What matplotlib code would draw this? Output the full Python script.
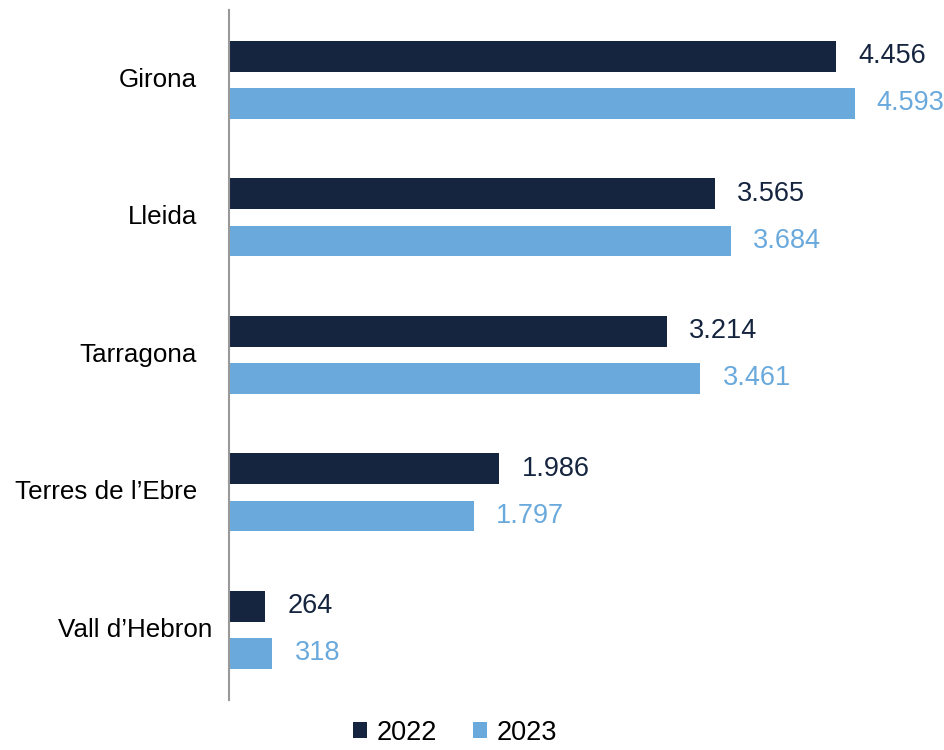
import matplotlib
matplotlib.use('Agg')
import matplotlib.pyplot as plt
import matplotlib.transforms as mtransforms
import numpy as np

## {{{                          --     data     --
regions = ['Girona', 'Lleida', 'Tarragona', "Terres de l\u2019Ebre", "Vall d\u2019Hebron"]
vals_2022 = [4456, 3565, 3214, 1986, 264]
vals_2023 = [4593, 3684, 3461, 1797, 318]
years = ['2022', '2023']
##────────────────────────────────────────────────────────────────────────────}}}

plt.rcParams['font.family'] = ['Liberation Sans', 'DejaVu Sans']

c22 = '#16253f'
c23 = '#6aa9dc'
fs = 19.5

fig = plt.figure(figsize=(9.44, 7.5), dpi=100)
ax = fig.add_axes([0.2426, 0.0667, 0.7574, 0.92])

y = np.arange(len(regions))
off, h = 0.171, 0.225
ax.barh(y - off, vals_2022, height=h, color=c22, label=years[0])
ax.barh(y + off, vals_2023, height=h, color=c23, label=years[1])


def fmt(v):
    return f'{v:,}'.replace(',', '.')


for yi, v in zip(y, vals_2022):
    ax.annotate(fmt(v), (v, yi - off), xytext=(16, 0), textcoords='offset points',
                va='center', ha='left', fontsize=fs, color=c22)
for yi, v in zip(y, vals_2023):
    ax.annotate(fmt(v), (v, yi + off), xytext=(16, 0), textcoords='offset points',
                va='center', ha='left', fontsize=fs, color=c23)

# category labels (last one sits a bit closer to the axis)
ax.set_yticks([])
for i, name in enumerate(regions):
    dx = -12 if i == len(regions) - 1 else -23
    tr = mtransforms.offset_copy(ax.get_yaxis_transform(), fig=fig, x=dx, y=0, units='points')
    ax.text(0, i, name, transform=tr, ha='right', va='center', fontsize=18.7, color='black')

ax.set_xlim(0, 5250)
ax.set_ylim(4.509, -0.509)
ax.set_xticks([])
for s in ['top', 'right', 'bottom']:
    ax.spines[s].set_visible(False)
ax.spines['left'].set_color('#999999')
ax.spines['left'].set_linewidth(1.5)

fig.legend(loc='lower center', bbox_to_anchor=(0.482, -0.027), ncol=2, frameon=False,
           fontsize=fs, handlelength=0.55, handleheight=0.55, handletextpad=0.35,
           columnspacing=1.3)

fig.savefig('out.png', dpi=100)
